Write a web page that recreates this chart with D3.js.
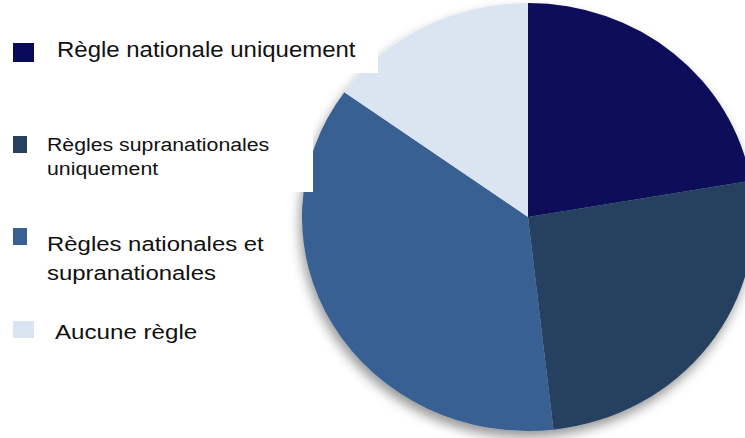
<!DOCTYPE html>
<html>
<head>
<meta charset="utf-8">
<script src="https://cdn.jsdelivr.net/npm/d3@7"></script>
<style>
  body { margin: 0; background: #fff; }
  svg { display: block; font-family: "Liberation Sans", Arial, sans-serif; }
</style>
</head>
<body>
<div id="chart"></div>
<script>
const categories = [
    'Règle nationale uniquement',
    'Règles supranationales uniquement',
    'Règles nationales et supranationales',
    'Aucune règle'
];
const values = [22.3, 25.9, 36.7, 15.1];
const colors = ['#09095a', '#26405f', '#376192', '#dbe5f1'];

// legend lines as drawn in the picture (wrapping kept)
const legendLines = [
    ['Règle nationale uniquement'],
    ['Règles supranationales', 'uniquement'],
    ['Règles nationales et', 'supranationales'],
    ['Aucune règle']
];

const width = 745;
const height = 438;

const svg = d3.select('#chart')
    .append('svg')
    .attr('width', width)
    .attr('height', height);

const defs = svg.append('defs');
defs.append('filter')
    .attr('id', 'shadow')
    .attr('x', '-10%').attr('y', '-10%')
    .attr('width', '120%').attr('height', '120%')
    .append('feDropShadow')
    .attr('dx', -1)
    .attr('dy', 3)
    .attr('stdDeviation', 2.5)
    .attr('flood-color', '#000')
    .attr('flood-opacity', 0.4);

// pie is slightly wider than tall
const cx = 528, cy = 217;
const rx = 226, ry = 214;

const pie = d3.pie().sort(null).value((d) => d);
const arc = d3.arc().innerRadius(0).outerRadius(100);

const g = svg.append('g')
    .attr('transform', `translate(${cx},${cy}) scale(${rx / 100},${ry / 100})`)
    .attr('filter', 'url(#shadow)');

g.selectAll('path')
    .data(pie(values))
    .join('path')
    .attr('d', arc)
    .attr('fill', (d, i) => colors[i]);

// white legend box sitting over the pie
svg.append('rect').attr('x', 0).attr('y', 0).attr('width', 378).attr('height', 73).attr('fill', '#fff');
svg.append('rect').attr('x', 0).attr('y', 0).attr('width', 313).attr('height', 192).attr('fill', '#fff');

// text in the picture is a bit stretched sideways, hence sx
const legendItems = [
    { box: [13, 43, 21, 19], x: 57, y: 57, size: 22, sx: 1.09, lh: 24 },
    { box: [13, 136, 14, 17], x: 47, y: 151, size: 19, sx: 1.12, lh: 24 },
    { box: [13, 228, 14, 17], x: 47, y: 251, size: 21, sx: 1.14, lh: 29 },
    { box: [13, 321, 21, 17], x: 55, y: 339, size: 21, sx: 1.15, lh: 24 }
];

const legend = svg.append('g').attr('class', 'legend');

legendItems.forEach((item, i) => {
    legend.append('rect')
        .attr('x', item.box[0])
        .attr('y', item.box[1])
        .attr('width', item.box[2])
        .attr('height', item.box[3])
        .attr('fill', colors[i]);

    const text = legend.append('text')
        .attr('transform', `translate(${item.x},${item.y}) scale(${item.sx},1)`)
        .attr('font-size', item.size)
        .attr('fill', '#111');

    legendLines[i].forEach((line, j) => {
        text.append('tspan')
            .attr('x', 0)
            .attr('dy', j === 0 ? 0 : item.lh)
            .text(line);
    });
});
</script>
</body>
</html>
